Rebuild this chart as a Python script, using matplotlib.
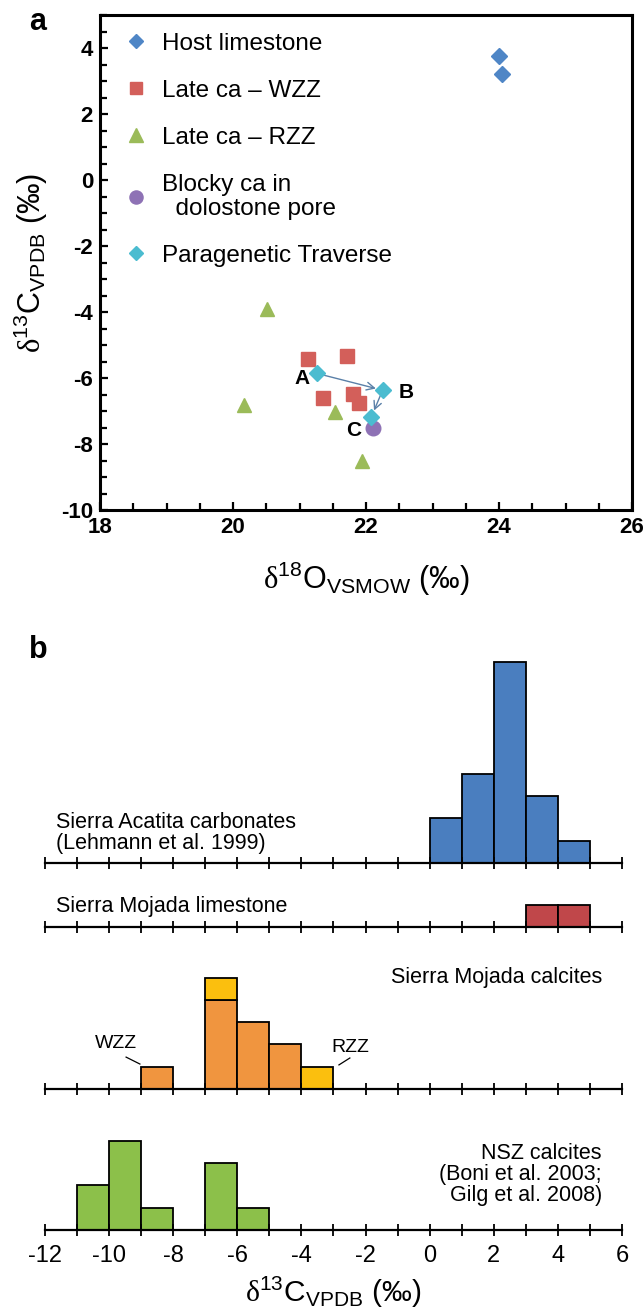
import matplotlib
matplotlib.use("Agg")
import matplotlib.pyplot as plt
from matplotlib.ticker import MultipleLocator
import numpy as np

plt.rcParams['font.family'] = ['Liberation Sans', 'DejaVu Sans']
plt.rcParams['axes.unicode_minus'] = False
plt.rcParams['mathtext.fontset'] = 'custom'
plt.rcParams['mathtext.rm'] = 'Liberation Sans'
plt.rcParams['mathtext.it'] = 'Liberation Serif'
plt.rcParams['mathtext.bf'] = 'Liberation Sans:bold'

PERMIL = '\u2030'

# ---------------- panel a data ----------------
host_o = [24.0, 24.05]
host_c = [3.75, 3.2]
wzz_o = [21.13, 21.72, 21.35, 21.80, 21.89]
wzz_c = [-5.42, -5.33, -6.62, -6.49, -6.75]
rzz_o = [20.51, 20.17, 21.54, 21.94]
rzz_c = [-3.92, -6.83, -7.03, -8.53]
blocky_o = [22.10]
blocky_c = [-7.5]
trav_o = [21.26, 22.25, 22.08]
trav_c = [-5.86, -6.37, -7.18]
trav_labels = ['A', 'B', 'C']

legend_labels = ['Host limestone', 'Late ca \u2013 WZZ', 'Late ca \u2013 RZZ',
                 'Blocky ca in\n  dolostone pore', 'Paragenetic Traverse']

# ---------------- panel b data ----------------
bin_left = np.arange(-12, 6)  # 1-permil bins
acatita_bins = [0, 1, 2, 3, 4]
acatita_counts = [2, 4, 9, 3, 1]
limestone_bins = [3, 4]
limestone_counts = [1, 1]
calc_wzz_bins = [-9, -7, -6, -5]
calc_wzz_counts = [1, 4, 3, 2]
calc_rzz_bins = [-7, -4]
calc_rzz_counts = [1, 1]
nsz_bins = [-11, -10, -9, -7, -6]
nsz_counts = [2, 4, 1, 3, 1]

W, H = 644, 1313
fig = plt.figure(figsize=(W / 100, H / 100), dpi=100)

def px_axes(x0, y0, x1, y1):
    return fig.add_axes([x0 / W, 1 - y1 / H, (x1 - x0) / W, (y1 - y0) / H])

# ================= panel a =================
ax = px_axes(100, 15, 632, 510)
ax.set_xlim(18, 26)
ax.set_ylim(-10, 5)

ax.plot(host_o, host_c, 'D', color='#4f86c6', ms=8.0, ls='none', label=legend_labels[0])
ax.plot(wzz_o, wzz_c, 's', color='#d35f5a', ms=10, ls='none', label=legend_labels[1])
ax.plot(rzz_o, rzz_c, '^', color='#9bbb59', ms=10.5, ls='none', label=legend_labels[2])
ax.plot(blocky_o, blocky_c, 'o', color='#8e72b5', ms=10.5, ls='none', label=legend_labels[3])
ax.plot(trav_o, trav_c, 'D', color='#4bbcd0', ms=8.0, ls='none', label=legend_labels[4], zorder=4)

for i in range(len(trav_o) - 1):
    ax.annotate('', xy=(trav_o[i + 1], trav_c[i + 1]), xytext=(trav_o[i], trav_c[i]),
                arrowprops=dict(arrowstyle='->', color='#5a80a8', lw=1.0,
                                shrinkA=4, shrinkB=5, mutation_scale=14), zorder=3)

lab_off = [(-0.22, -0.15), (0.36, -0.08), (-0.26, -0.4)]
for lab, xo, yo, (dx, dy) in zip(trav_labels, trav_o, trav_c, lab_off):
    ax.text(xo + dx, yo + dy, lab, fontsize=15, fontweight='bold', ha='center', va='center')

leg = ax.legend(loc='upper left', bbox_to_anchor=(0.011, 1.0), frameon=False,
                fontsize=17.5, handletextpad=0.6, labelspacing=1.03,
                handlelength=1.0, borderaxespad=0.33, borderpad=0.4,
                markerscale=0.9)
for t in leg.get_texts():
    t.set_linespacing(1.1)

ax.xaxis.set_major_locator(MultipleLocator(2))
ax.xaxis.set_minor_locator(MultipleLocator(0.5))
ax.yaxis.set_major_locator(MultipleLocator(2))
ax.yaxis.set_minor_locator(MultipleLocator(0.5))
ax.tick_params(which='both', direction='in', width=1.6)
ax.tick_params(which='major', length=6, labelsize=16, pad=5)
ax.tick_params(which='minor', length=5)
for t in ax.get_xticklabels() + ax.get_yticklabels():
    t.set_fontweight('bold')
for s in ax.spines.values():
    s.set_linewidth(2.2)
ax.set_xlabel(r'$\delta\mathregular{^{18}O_{VSMOW}}$ (' + PERMIL + ')', fontsize=22, labelpad=16)
ax.set_ylabel(r'$\delta\mathregular{^{13}C_{VPDB}}$ (' + PERMIL + ')', fontsize=22, labelpad=8)
fig.text(38 / W, 1 - 22 / H, 'a', fontsize=22, fontweight='bold', ha='center', va='center')

# ================= panel b =================
u = 22.3  # px per count
x0, x1 = 45, 622

def hist_axes(base_px, top_units):
    a = px_axes(x0, base_px - top_units * u, x1, base_px)
    a.set_xlim(-12, 6)
    a.set_ylim(0, top_units)
    for k in ['top', 'left', 'right']:
        a.spines[k].set_visible(False)
    a.spines['bottom'].set_linewidth(1.6)
    a.set_yticks([])
    a.xaxis.set_major_locator(MultipleLocator(1))
    a.tick_params(axis='x', direction='inout', length=9, width=1.3, labelbottom=False)
    a.patch.set_alpha(0)
    return a

bar_kw = dict(width=1, align='edge', edgecolor='black', linewidth=1.3)
tfs = 15.5

a1 = hist_axes(863, 10)
a1.bar(acatita_bins, acatita_counts, color='#4a7ebf', **bar_kw)
a1.text(-11.65, 0.42, 'Sierra Acatita carbonates\n(Lehmann et al. 1999)', fontsize=tfs,
        ha='left', va='bottom', linespacing=1.0)

a2 = hist_axes(927, 2.5)
a2.bar(limestone_bins, limestone_counts, color='#c0474a', **bar_kw)
a2.text(-11.65, 0.9, 'Sierra Mojada limestone', fontsize=tfs, ha='left', va='center')

a3 = hist_axes(1089, 6.5)
a3.bar(calc_wzz_bins, calc_wzz_counts, color='#f0953f', **bar_kw)
wzz_map = dict(zip(calc_wzz_bins, calc_wzz_counts))
a3.bar(calc_rzz_bins, calc_rzz_counts, bottom=[wzz_map.get(b, 0) for b in calc_rzz_bins],
       color='#fbbf0e', **bar_kw)
a3.text(5.37, 5.0, 'Sierra Mojada calcites', fontsize=tfs, ha='right', va='center')
a3.text(-9.79, 2.06, 'WZZ', fontsize=14, ha='center', va='center')
a3.plot([-9.47, -9.04], [1.43, 1.12], color='black', lw=0.9)
a3.text(-2.46, 1.88, 'RZZ', fontsize=14, ha='center', va='center')
a3.plot([-2.49, -2.83], [1.39, 1.08], color='black', lw=0.9)

a4 = hist_axes(1230, 5)
a4.bar(nsz_bins, nsz_counts, color='#8cc04a', **bar_kw)
a4.text(5.37, 2.47, 'NSZ calcites\n(Boni et al. 2003;\nGilg et al. 2008)', fontsize=tfs,
        ha='right', va='center', multialignment='right', linespacing=1.0)
a4.set_xticks(np.arange(-12, 7, 2))
a4.set_xticks(bin_left, minor=True)
a4.tick_params(axis='x', which='both', direction='inout', length=9, width=1.3)
a4.tick_params(axis='x', labelbottom=True, labelsize=17, pad=6)
a4.set_xlabel(r'$\delta\mathregular{^{13}C_{VPDB}}$ (' + PERMIL + ')', fontsize=21.5, labelpad=6)
fig.text(38 / W, 1 - 650 / H, 'b', fontsize=22, fontweight='bold', ha='center', va='center')

fig.savefig('out.png', dpi=100)
